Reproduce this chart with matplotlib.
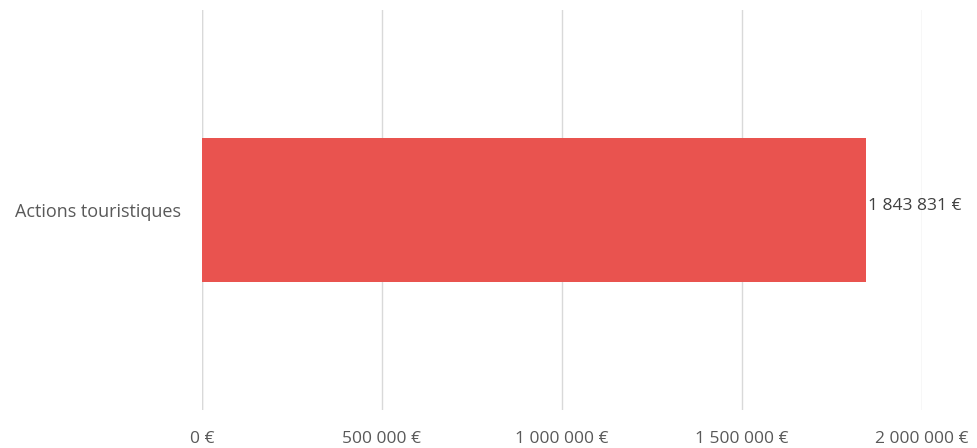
import matplotlib
matplotlib.use("Agg")
import matplotlib.pyplot as plt

categories = ["Actions touristiques"]
values = [1843831]
xticks = [0, 500000, 1000000, 1500000, 2000000]

def fmt(v):
    return "{:,}".format(int(v)).replace(",", " ") + " €"

plt.rcParams['font.family'] = ['Open Sans', 'DejaVu Sans']

fig = plt.figure(figsize=(9.77, 4.48), dpi=100)
ax = fig.add_axes([202/977, 1-410/448, 720/977, 400/448])

ax.barh(range(len(categories)), values, height=0.36, color="#E9534F", zorder=3)
for i, v in enumerate(values):
    ax.text(v + 6000, i + 0.01, fmt(v), va="center", ha="left", fontsize=12.5, color="#404040", zorder=4)

ax.set_xlim(0, 2000000)
ax.set_ylim(-0.5, 0.5)
ax.set_xticks(xticks)
ax.set_xticklabels([fmt(t) for t in xticks])
ax.set_yticks(range(len(categories)))
ax.set_yticklabels(categories)
ax.tick_params(axis="x", length=0, pad=15, labelsize=12.5, labelcolor="#595959")
ax.tick_params(axis="y", length=0, pad=15, labelsize=13, labelcolor="#595959")
ax.grid(axis="x", color="#D9D9D9", linewidth=1, zorder=0)
ax.set_axisbelow(True)
for s in ax.spines.values():
    s.set_visible(False)
ax.axvline(0, color="#D9D9D9", linewidth=1, zorder=1)

fig.savefig("out.png", dpi=100)
